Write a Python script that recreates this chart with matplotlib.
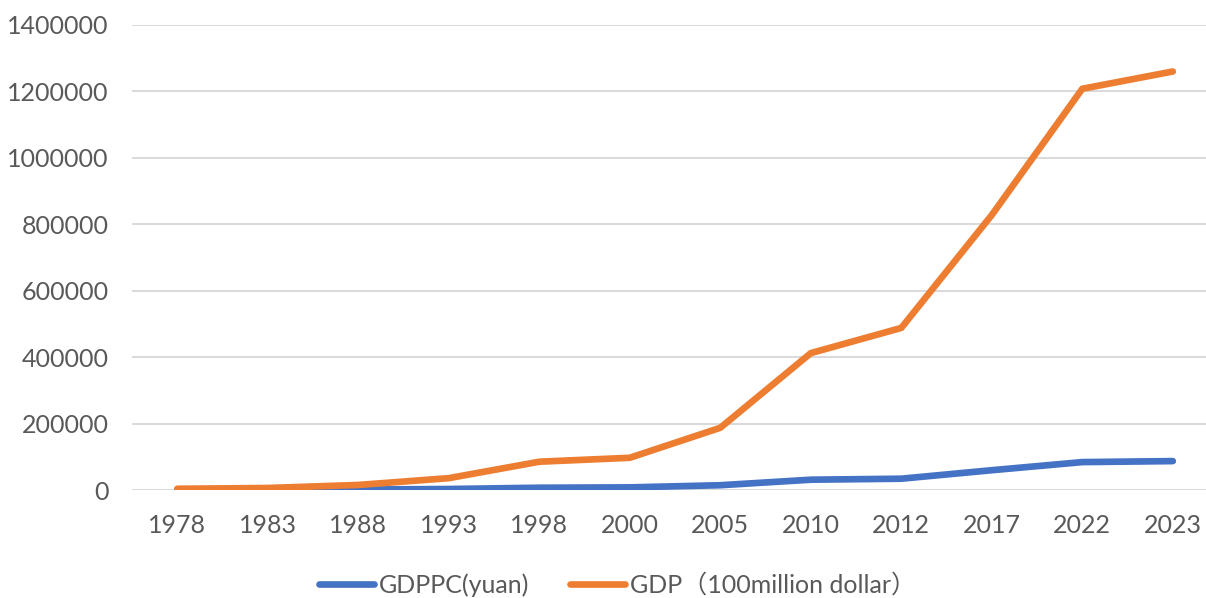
import matplotlib
matplotlib.use('Agg')
import matplotlib.pyplot as plt
import numpy as np

years = ['1978', '1983', '1988', '1993', '1998', '2000',
         '2005', '2010', '2012', '2017', '2022', '2023']
gdppc = [385, 583, 1366, 2998, 6860, 7942,
         14368, 31000, 34000, 59600, 84000, 87000]
gdp = [3679, 6020, 15180, 35673, 85196, 97000,
       187319, 412119, 488000, 828000, 1208000, 1260000]
yticks = [0, 200000, 400000, 600000, 800000, 1000000, 1200000, 1400000]

plt.rcParams['font.family'] = ['Lato', 'Noto Sans CJK SC', 'DejaVu Sans']
text_color = '#595959'

fig = plt.figure(figsize=(12.06, 5.98), dpi=100)
ax = fig.add_axes([0.1095, 0.1806, 0.9005, 0.7776])

x = np.arange(len(years))
ax.plot(x, gdppc, color='#4472C4', lw=4.8, solid_capstyle='round',
        solid_joinstyle='round', label='GDPPC(yuan)', zorder=3)
ax.plot(x, gdp, color='#ED7D31', lw=4.8, solid_capstyle='round',
        solid_joinstyle='round', label='GDP（100million dollar）', zorder=3)

ax.set_xlim(-0.5, len(years) - 0.5)
ax.set_ylim(0, 1400000)
ax.set_xticks(x)
ax.set_xticklabels(years)
ax.set_yticks(yticks)
ax.set_yticklabels([str(v) for v in yticks])
ax.tick_params(axis='both', length=0, labelsize=18, colors=text_color)
ax.tick_params(axis='x', pad=17)
ax.tick_params(axis='y', pad=17)
ax.grid(axis='y', color='#D9D9D9', lw=1.4)
ax.set_axisbelow(True)
for s in ax.spines.values():
    s.set_visible(False)

fig.legend(loc='center', bbox_to_anchor=(0.512, 0.022), ncol=2, frameon=False,
           fontsize=18, handlelength=2.2, handletextpad=0.2,
           columnspacing=1.6, labelcolor=text_color)

fig.savefig('out.png', dpi=100)
